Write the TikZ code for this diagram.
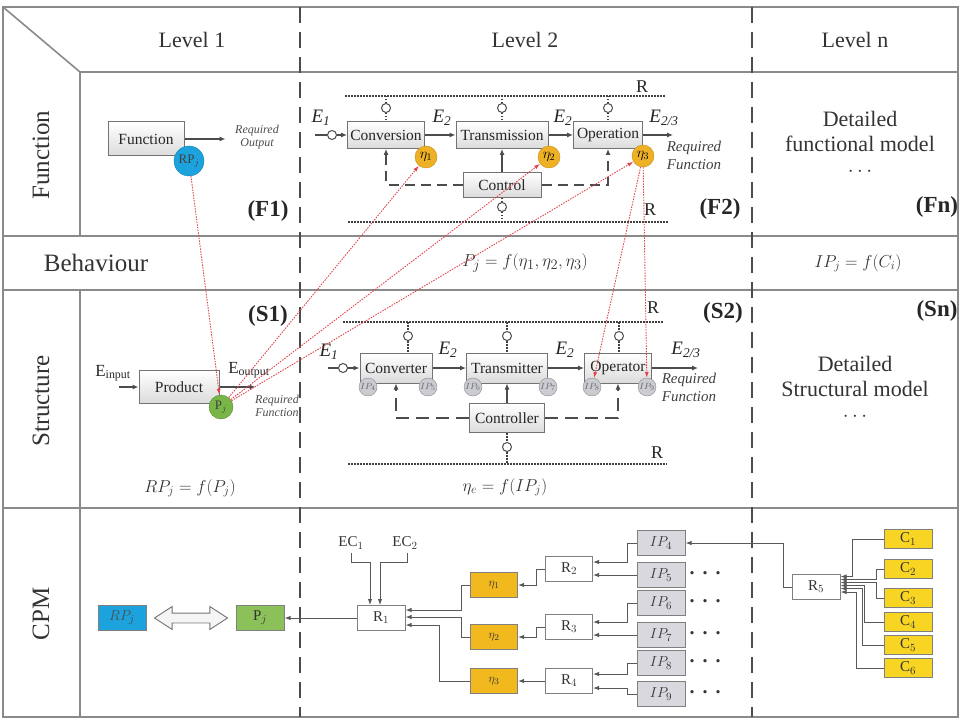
\documentclass[tikz,border=0pt]{standalone}
\usepackage{fontspec}
\setmainfont{Liberation Serif}
\usepackage{tikz}
\usetikzlibrary{arrows.meta,shapes.arrows}

\begin{document}
\begin{tikzpicture}[x=1pt, y=-1pt,
  frame/.style={draw=frameGray, line width=1.6pt},
  divl/.style={draw=black!70, line width=1.5pt, dash pattern=on 16pt off 9pt},
  hdr/.style={font=\fontsize{22}{26}\selectfont, text=black!80},
  rowlab/.style={font=\fontsize{25}{30}\selectfont, text=black!80},
  tag/.style={font=\fontsize{23}{28}\selectfont\bfseries, text=black!85},
  blk/.style={draw=black!55, line width=1pt, top color=white, bottom color=black!14, font=\fontsize{15.5}{18}\selectfont, inner sep=1pt, text=black!85},
  port/.style={circle, draw=black!70, fill=white, line width=1pt, minimum size=9pt, inner sep=0pt},
  rline/.style={draw=black!75, line width=1.3pt, dash pattern=on 1.5pt off 1.5pt},
  flow/.style={draw=black!70, line width=1.1pt, -{Latex[length=6pt,width=5pt]}},
  fb/.style={draw=black!70, line width=1.1pt, dash pattern=on 10pt off 6pt, -{Latex[length=6pt,width=5pt]}},
  elab/.style={font=\fontsize{19}{20}\selectfont\itshape, text=black!85},
  rlab/.style={font=\fontsize{18}{20}\selectfont, text=black!85},
  req/.style={font=\fontsize{12}{13.5}\selectfont\itshape, align=center, text=black!70},
  reqb/.style={font=\fontsize{15}{18}\selectfont\itshape, align=center, text=black!75},
  eqn/.style={font=\fontsize{18}{20}\selectfont, text=black!80},
  info/.style={font=\fontsize{22}{25}\selectfont, align=center, text=black!80},
  etac/.style={circle, draw=etaEdge, fill=etaCirc, minimum size=22pt, inner sep=0pt, font=\fontsize{14}{15}\selectfont},
  ipc/.style={circle, draw=black!45, fill=ipCirc, minimum size=18pt, inner sep=0pt, font=\fontsize{9.5}{10}\selectfont, text=black!60},
  rlink/.style={draw=linkRed, line width=0.9pt, dash pattern=on 1.5pt off 1.2pt, -{Latex[length=6pt,width=4pt]}},
  cbox/.style={draw=black!50, line width=1pt, minimum width=48pt, minimum height=25pt, inner sep=1pt, font=\fontsize{15}{16}\selectfont, text=black!80},
  carr/.style={draw=black!65, line width=1pt, -{Latex[length=6pt,width=4.5pt]}},
  dots/.style={font=\fontsize{20}{20}\selectfont\bfseries, text=black!80}
]

% Colours
\definecolor{frameGray}{HTML}{8A8A8A}
\definecolor{rpBlue}{HTML}{1CA3DD}
\definecolor{pjGreen}{HTML}{78B648}
\definecolor{pjBox}{HTML}{8CC15A}
\definecolor{etaCirc}{HTML}{EEB126}
\definecolor{etaEdge}{HTML}{C98E10}
\definecolor{etaBox}{HTML}{F2B91F}
\definecolor{ipCirc}{HTML}{CBCBD2}
\definecolor{ipBox}{HTML}{D8D8DE}
\definecolor{cYellow}{HTML}{F8D423}
\definecolor{linkRed}{HTML}{E2434B}

\useasboundingbox (0,0) rectangle (960,719);

% Table
\draw[frame] (3,7) rectangle (958,717);
\draw[frame] (3,7) -- (80,72);
\draw[frame] (80,72) -- (958,72);
\draw[frame] (3,236) -- (958,236);
\draw[frame] (3,290) -- (958,290);
\draw[frame] (3,508) -- (958,508);
\draw[frame] (80,72) -- (80,236);
\draw[frame] (80,290) -- (80,717);
\draw[divl] (300,7) -- (300,717);
\draw[divl] (752,7) -- (752,717);

% Headers
\node[hdr] (lv1) at (192,40) {Level 1};
\node[hdr] (lv2) at (525,40) {Level 2};
\node[hdr] (lvn) at (855,40) {Level n};
\node[rowlab, rotate=90] (rfun) at (41,155) {Function};
\node[rowlab] (rbeh) at (96,263) {Behaviour};
\node[rowlab, rotate=90] (rstr) at (41,401) {Structure};
\node[rowlab, rotate=90] (rcpm) at (41,614) {CPM};

% Function - level 1
\node[blk, minimum width=76pt, minimum height=34pt] (func) at (146,139) {Function};
\draw[flow] (func.east) -- ++(41,0) coordinate (fout);
\node[req] (reqo) at (257,137) {Required\\Output};
\node[circle, draw=rpBlue!80!black, fill=rpBlue, minimum size=30pt, inner sep=0pt, font=\fontsize{13}{14}\selectfont, text=black!75] (rp) at (189,161) {RP$_j$};
\node[tag] (f1) at (268,211) {(F1)};

% Function - level 2
\coordinate (rt1) at (345,96);
\coordinate (rt2) at (665,96);
\draw[rline] (rt1) -- (rt2);
\node[rlab] (rtop) at (642,87) {R};
\node[blk, minimum width=77pt, minimum height=27pt] (conv) at (386,135) {Conversion};
\node[blk, minimum width=92pt, minimum height=27pt] (trans) at (502,135) {Transmission};
\node[blk, minimum width=69pt, minimum height=27pt] (oper) at (608,135) {Operation};
\node[blk, minimum width=78pt, minimum height=25pt] (ctrl) at (502,185) {Control};
\coordinate (e1in) at (315,135);
\node[port] (pin) at (332,135) {};
\draw[draw=black!70, line width=1.1pt] (e1in) -- (pin);
\draw[flow] (pin) -- (conv);
\draw[flow] (conv) -- (trans);
\draw[flow] (trans) -- (oper);
\draw[flow] (oper.east) -- ++(30,0) coordinate (fout2);
\node[elab] (le1) at (321,118) {E\textsubscript{1}};
\node[elab] (le2) at (442,118) {E\textsubscript{2}};
\node[elab] (le3) at (563,118) {E\textsubscript{2}};
\node[elab] (le4) at (664,118) {E\textsubscript{2/3}};
\node[reqb] (reqf) at (694,155) {Required\\Function};
\node[port] (pcv) at (386,108) {};
\node[port] (ptr) at (502,108) {};
\node[port] (pop) at (608,108) {};
\draw[rline] (pcv |- rt1) -- (pcv) -- (conv);
\draw[rline] (ptr |- rt1) -- (ptr) -- (trans);
\draw[rline] (pop |- rt1) -- (pop) -- (oper);
\draw[fb] (ctrl.west) -| (conv.south);
\draw[fb] (ctrl.east) -| (oper.south);
\draw[flow] (ctrl.north) -- (trans.south);
\coordinate (rb1) at (348,222);
\coordinate (rb2) at (668,222);
\draw[rline] (rb1) -- (rb2);
\node[port] (pct) at (502,207) {};
\draw[rline] (ctrl) -- (pct) -- (pct |- rb1);
\node[rlab] (rbot) at (650,210) {R};
\node[tag] (f2) at (720,209) {(F2)};
\node[etac] (eta1) at (426,157) {$\eta_1$};
\node[etac] (eta2) at (549,157) {$\eta_2$};
\node[etac] (eta3) at (643,156) {$\eta_3$};

% Function - level n
\node[info] (fn) at (860,144) {Detailed\\functional model\\$\cdots$};
\node[tag] (ftag) at (937,207) {(Fn)};

% Behaviour
\node[eqn, font=\fontsize{19}{20}\selectfont] (beq) at (525,263) {$P_j = f(\eta_1,\eta_2,\eta_3)$};
\node[eqn] (beqn) at (858,263) {$IP_j = f(C_i)$};

% Structure - level 1
\node[blk, minimum width=80pt, minimum height=33pt] (prod) at (179,387) {Product};
\coordinate (ein) at (119,387);
\draw[flow] (ein) -- (prod);
\draw[flow] (prod.east) -- ++(36,0) coordinate (pout);
\node[font=\fontsize{17}{18}\selectfont, text=black!85] (lin) at (113,373) {E\textsubscript{input}};
\node[font=\fontsize{17}{18}\selectfont, text=black!85] (lout) at (249,370) {E\textsubscript{output}};
\node[circle, draw=pjGreen!75!black, fill=pjGreen, minimum size=24pt, inner sep=0pt, font=\fontsize{13}{14}\selectfont, text=black!75] (pj) at (221,407) {P$_j$};
\node[req] (reqs) at (277,406) {Required\\Function};
\node[tag] (s1) at (268,316) {(S1)};
\node[eqn] (seq1) at (190,488) {$RP_j = f(P_j)$};

% Structure - level 2
\coordinate (rs1) at (343,322);
\coordinate (rs2) at (663,322);
\draw[rline] (rs1) -- (rs2);
\node[rlab] (rstop) at (653,308) {R};
\node[tag] (s2) at (723,313) {(S2)};
\node[blk, minimum width=72pt, minimum height=30pt] (cvt) at (396,368) {Converter};
\node[blk, minimum width=81pt, minimum height=30pt] (trm) at (507,368) {Transmitter};
\node[blk, minimum width=67pt, minimum height=30pt] (opr) at (618,368) {Operator};
\node[blk, minimum width=75pt, minimum height=29pt] (ctl) at (507,418) {Controller};
\coordinate (s1in) at (328,368);
\node[port] (psin) at (343,368) {};
\draw[draw=black!70, line width=1.1pt] (s1in) -- (psin);
\draw[flow] (psin) -- (cvt);
\draw[flow] (cvt) -- (trm);
\draw[flow] (trm) -- (opr);
\draw[flow] (opr.east) -- ++(46,0) coordinate (sout);
\node[elab] (se1) at (329,352) {E\textsubscript{1}};
\node[elab] (se2) at (448,350) {E\textsubscript{2}};
\node[elab] (se3) at (565,350) {E\textsubscript{2}};
\node[elab] (se4) at (686,350) {E\textsubscript{2/3}};
\node[reqb] (reqs2) at (689,387) {Required\\Function};
\node[port] (qcv) at (408,336) {};
\node[port] (qtr) at (507,336) {};
\node[port] (qop) at (619,336) {};
\draw[rline] (qcv |- rs1) -- (qcv) -- (qcv |- cvt.north);
\draw[rline] (qtr |- rs1) -- (qtr) -- (trm);
\draw[rline] (qop |- rs1) -- (qop) -- (qop |- opr.north);
\draw[fb, dash pattern=on 13pt off 7pt] (ctl.west) -| (cvt.south);
\draw[fb, dash pattern=on 13pt off 7pt] (ctl.east) -| (opr.south);
\draw[flow] (ctl.north) -- (trm.south);
\coordinate (rs3) at (348,464);
\coordinate (rs4) at (667,464);
\draw[rline] (rs3) -- (rs4);
\node[port] (qct) at (507,447) {};
\draw[rline] (ctl) -- (qct) -- (qct |- rs3);
\node[rlab] (rsbot) at (657,453) {R};
\node[ipc] (ip4) at (368,387) {$IP_4$};
\node[ipc] (ip5) at (428,387) {$IP_5$};
\node[ipc] (ip6) at (473,387) {$IP_6$};
\node[ipc] (ip7) at (548,387) {$IP_7$};
\node[ipc] (ip8) at (592,387) {$IP_8$};
\node[ipc] (ip9) at (647,387) {$IP_9$};
\node[eqn] (seq2) at (505,487) {$\eta_e = f(IP_j)$};

% Structure - level n
\node[info] (sn) at (855,389) {Detailed\\Structural model\\$\cdots$};
\node[tag] (stag) at (937,311) {(Sn)};

% CPM - level 1
\node[cbox, fill=rpBlue, font=\fontsize{15}{16}\selectfont, text=black!70] (rpb) at (122,618) {$RP_j$};
\node[cbox, fill=pjBox, font=\fontsize{15}{16}\selectfont] (pjb) at (260,618) {P$_j$};
\node[double arrow, draw=black!55, fill=black!4, line width=0.9pt, minimum height=73pt, inner xsep=0pt, inner ysep=4.5pt, double arrow head extend=6.5pt, double arrow tip angle=66] (link) at (191,618) {};

% CPM - level 2
\node[cbox] (r1) at (381,618) {R$_1$};
\draw[carr] (r1) -- (pjb);
\node[font=\fontsize{15}{16}\selectfont, text=black!80] (ec1) at (351,543) {EC$_1$};
\node[font=\fontsize{15}{16}\selectfont, text=black!80] (ec2) at (405,543) {EC$_2$};
\coordinate (k1) at (370,562);
\coordinate (k2) at (380,562);
\draw[carr] (ec1.south) |- (k1) -- (k1 |- r1.north);
\draw[carr] ([xshift=2pt]ec2.south) |- (k2) -- (k2 |- r1.north);
\node[cbox, fill=etaBox, minimum width=47pt, font=\fontsize{13}{14}\selectfont] (et1) at (494,585) {$\eta_1$};
\node[cbox, fill=etaBox, minimum width=47pt, font=\fontsize{13}{14}\selectfont] (et2) at (494,637) {$\eta_2$};
\node[cbox, fill=etaBox, minimum width=47pt, font=\fontsize{13}{14}\selectfont] (et3) at (494,681) {$\eta_3$};
\node[cbox, minimum width=47pt] (r2) at (569,569) {R$_2$};
\node[cbox, minimum width=47pt] (r3) at (569,627) {R$_3$};
\node[cbox, minimum width=47pt] (r4) at (569,681) {R$_4$};
\node[cbox, fill=ipBox] (ipb4) at (661,543) {$IP_4$};
\node[cbox, fill=ipBox] (ipb5) at (661,575) {$IP_5$};
\node[cbox, fill=ipBox] (ipb6) at (661,603) {$IP_6$};
\node[cbox, fill=ipBox] (ipb7) at (661,635) {$IP_7$};
\node[cbox, fill=ipBox] (ipb8) at (661,663) {$IP_8$};
\node[cbox, fill=ipBox] (ipb9) at (661,694) {$IP_9$};
\node[dots] (d5) at (705,573) {.\hspace{8pt}.\hspace{8pt}.};
\node[dots] (d6) at (705,601) {.\hspace{8pt}.\hspace{8pt}.};
\node[dots] (d7) at (705,633) {.\hspace{8pt}.\hspace{8pt}.};
\node[dots] (d8) at (705,661) {.\hspace{8pt}.\hspace{8pt}.};
\node[dots] (d9) at (705,692) {.\hspace{8pt}.\hspace{8pt}.};
\draw[carr] (ipb4.west) -- ++(-9,0) |- ([yshift=7pt]r2.east);
\draw[carr] (ipb5.west) -- (ipb5.west -| r2.east);
\draw[carr] (r2.west) -- ++(-9,0) |- (et1.east);
\draw[carr] (ipb6.west) -- ++(-9,0) |- ([yshift=5pt]r3.east);
\draw[carr] (ipb7.west) -- (ipb7.west -| r3.east);
\draw[carr] (r3.west) -- ++(-9,0) |- (et2.east);
\draw[carr] (ipb8.west) -- ++(-9,0) |- ([yshift=7pt]r4.east);
\draw[carr] (ipb9.west) -- ++(-9,0) |- ([yshift=-7pt]r4.east);
\draw[carr] (r4) -- (et3);
\draw[carr] (et1.west) -- ++(-9,0) |- ([yshift=8pt]r1.east);
\draw[carr] (et2.west) -- ++(-9,0) |- ([yshift=1pt]r1.east);
\draw[carr] (et3.west) -- ++(-31,0) |- ([yshift=-7pt]r1.east);

% CPM - level n
\node[cbox] (r5) at (816,587) {R$_5$};
\draw[carr] (r5.west) -- ++(-8,0) |- (ipb4.east);
\node[cbox, fill=cYellow, minimum height=19pt] (c1) at (908,539) {C$_1$};
\node[cbox, fill=cYellow, minimum height=19pt] (c2) at (908,569) {C$_2$};
\node[cbox, fill=cYellow, minimum height=19pt] (c3) at (908,598) {C$_3$};
\node[cbox, fill=cYellow, minimum height=19pt] (c4) at (908,622) {C$_4$};
\node[cbox, fill=cYellow, minimum height=19pt] (c5) at (908,645) {C$_5$};
\node[cbox, fill=cYellow, minimum height=19pt] (c6) at (908,668) {C$_6$};
\draw[carr] (c1.west) -- ++(-31,0) |- ([yshift=10.5pt]r5.east);
\draw[carr] (c2.west) -- ++(-7,0) |- ([yshift=7.5pt]r5.east);
\draw[carr] (c3.west) -- ++(-7,0) |- ([yshift=4.5pt]r5.east);
\draw[carr] (c4.west) -- ++(-19,0) |- ([yshift=1.5pt]r5.east);
\draw[carr] (c5.west) -- ++(-21,0) |- ([yshift=-1.5pt]r5.east);
\draw[carr] (c6.west) -- ++(-27,0) |- ([yshift=-5pt]r5.east);

% Links between the levels
\draw[rlink] (rp) -- (pj);
\draw[rlink] (pj) -- (eta1);
\draw[rlink] (pj) -- (eta2);
\draw[rlink] (pj) -- (eta3);
\draw[rlink] (eta3) -- (ip8);
\draw[rlink] (eta3) -- (ip9);

\end{tikzpicture}
\end{document}
